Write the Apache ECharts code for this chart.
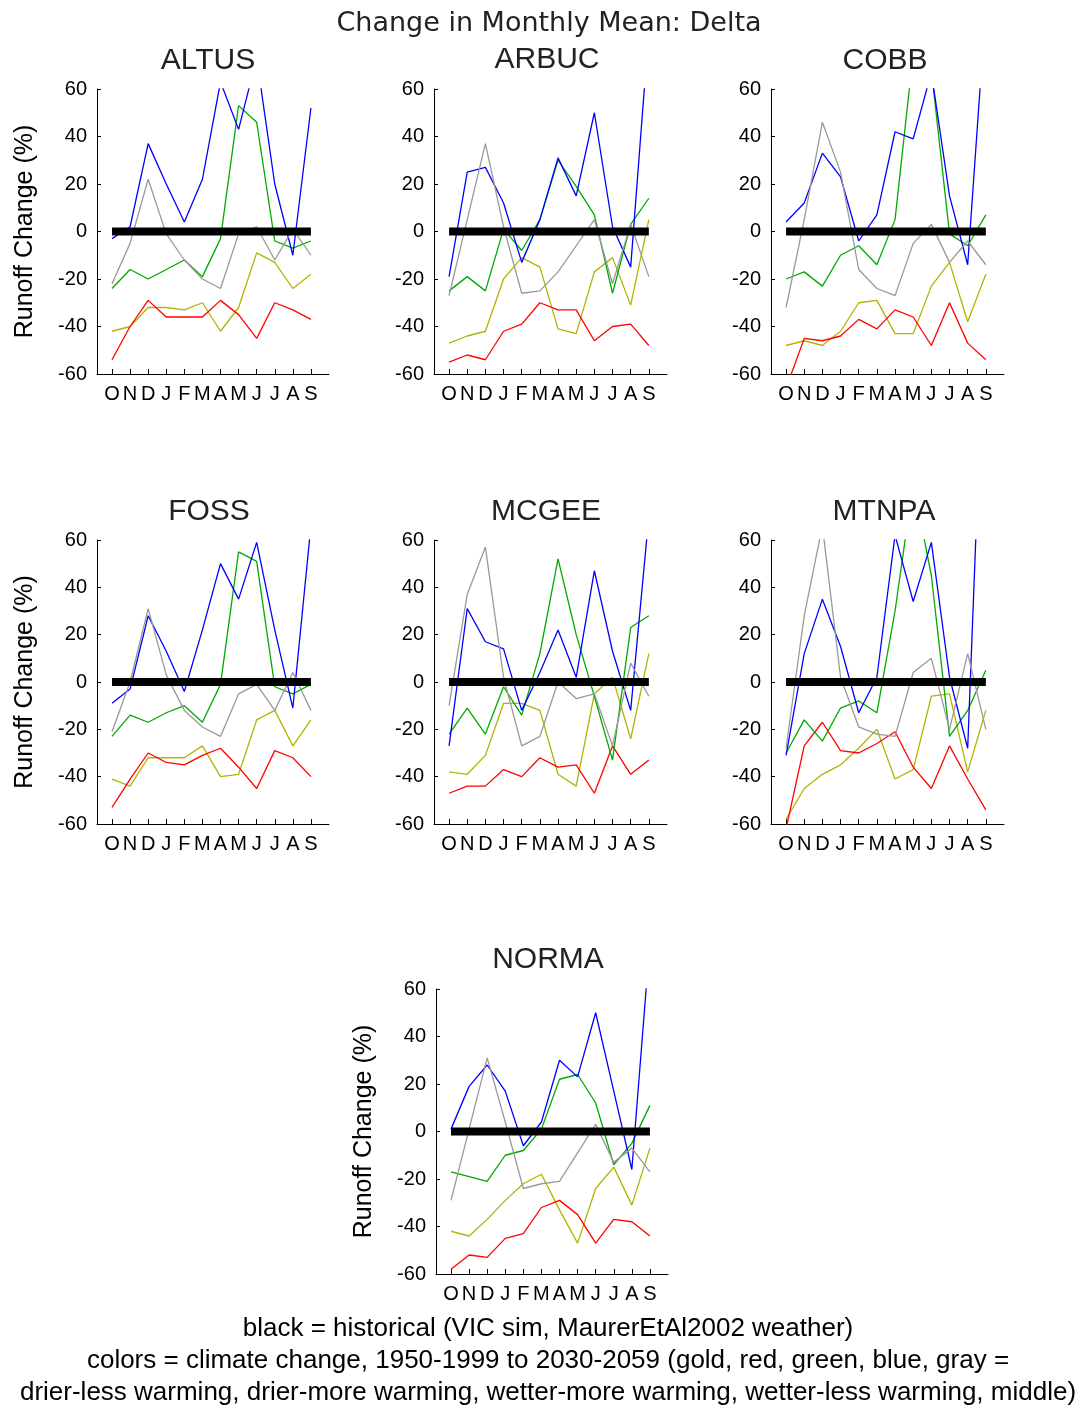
<!DOCTYPE html>
<html>
<head>
<meta charset="utf-8">
<script src="https://cdn.jsdelivr.net/npm/echarts@6/dist/echarts.min.js"></script>
<style>
html,body{margin:0;padding:0;background:#fff;}
#chart{width:1075px;height:1407px;}
</style>
</head>
<body>
<div id="chart"></div>
<script>
// ---- data ----
const months = ['O','N','D','J','F','M','A','M','J','J','A','S'];
const monthPos = [1,2,3,4,5,6,7,8,9,10,11,12];
const yTicks = [-60,-40,-20,0,20,40,60];
const historical = [0,0,0,0,0,0,0,0,0,0,0,0];

const ALTUS_gold  = [-42,-40,-32,-32,-33,-30,-42,-32,-9,-13,-24,-18];
const ALTUS_red   = [-54,-40,-29,-36,-36,-36,-29,-35,-45,-30,-33,-37];
const ALTUS_green = [-24,-16,-20,-16,-12,-19,-3,53,46,-4,-7,-4];
const ALTUS_blue  = [-3,2,37,20,4,22,63,43,73,20,-10,52];
const ALTUS_gray  = [-22,-5,22,-1,-12,-20,-24,-1,2,-12,1,-10];

const ARBUC_gold  = [-47,-44,-42,-20,-11,-15,-41,-43,-17,-11,-31,5];
const ARBUC_red   = [-55,-52,-54,-42,-39,-30,-33,-33,-46,-40,-39,-48];
const ARBUC_green = [-25,-19,-25,1,-8,5,30,19,7,-26,3,14];
const ARBUC_blue  = [-19,25,27,12,-13,5,31,15,50,2,-15,85];
const ARBUC_gray  = [-27,5,37,2,-26,-25,-17,-6,5,-22,3,-19];

const COBB_gold  = [-48,-46,-48,-42,-30,-29,-43,-43,-23,-13,-38,-18];
const COBB_red   = [-66,-45,-46,-44,-37,-41,-33,-36,-48,-30,-47,-54];
const COBB_green = [-20,-17,-23,-10,-6,-14,5,75,68,-1,-6,7];
const COBB_blue  = [4,12,33,23,-4,7,42,39,67,15,-14,95];
const COBB_gray  = [-32,5,46,25,-16,-24,-27,-5,3,-13,-4,-14];

const FOSS_gold  = [-41,-44,-32,-32,-32,-27,-40,-39,-16,-12,-27,-16];
const FOSS_red   = [-53,-41,-30,-34,-35,-31,-28,-36,-45,-29,-32,-40];
const FOSS_green = [-23,-14,-17,-13,-10,-17,-1,55,51,-2,-5,-1];
const FOSS_blue  = [-9,-3,28,13,-4,22,50,35,59,22,-11,66];
const FOSS_gray  = [-21,0,31,3,-12,-19,-23,-5,-1,-12,4,-12];

const MCGEE_gold  = [-38,-39,-31,-9,-9,-12,-39,-44,-5,2,-24,12];
const MCGEE_red   = [-47,-44,-44,-37,-40,-32,-36,-35,-47,-27,-39,-33];
const MCGEE_green = [-22,-11,-22,-2,-14,12,52,20,-6,-33,23,28];
const MCGEE_blue  = [-27,31,17,14,-12,4,22,2,47,13,-12,70];
const MCGEE_gray  = [-10,37,57,2,-27,-23,0,-7,-5,-27,8,-6];

const MTNPA_gold  = [-58,-45,-39,-35,-28,-20,-41,-37,-6,-5,-38,-12];
const MTNPA_red   = [-62,-27,-17,-29,-30,-26,-21,-36,-45,-27,-41,-54];
const MTNPA_green = [-30,-16,-25,-11,-8,-13,30,84,45,-23,-12,5];
const MTNPA_blue  = [-31,12,35,15,-13,2,62,34,59,2,-28,170];
const MTNPA_gray  = [-28,28,66,2,-19,-22,-23,4,10,-20,12,-20];

const NORMA_gold  = [-42,-44,-37,-29,-22,-18,-33,-47,-24,-15,-31,-7];
const NORMA_red   = [-58,-52,-53,-45,-43,-32,-29,-35,-47,-37,-38,-44];
const NORMA_green = [-17,-19,-21,-10,-8,1,22,24,12,-14,-5,11];
const NORMA_blue  = [1,19,28,17,-6,4,30,23,50,17,-16,80];
const NORMA_gray  = [-29,1,31,4,-24,-22,-21,-9,3,-13,-7,-17];

const stations = ['ALTUS','ARBUC','COBB','FOSS','MCGEE','MTNPA','NORMA'];
const stationData = {
  ALTUS: [ALTUS_gold, ALTUS_red, ALTUS_green, ALTUS_blue, ALTUS_gray],
  ARBUC: [ARBUC_gold, ARBUC_red, ARBUC_green, ARBUC_blue, ARBUC_gray],
  COBB:  [COBB_gold, COBB_red, COBB_green, COBB_blue, COBB_gray],
  FOSS:  [FOSS_gold, FOSS_red, FOSS_green, FOSS_blue, FOSS_gray],
  MCGEE: [MCGEE_gold, MCGEE_red, MCGEE_green, MCGEE_blue, MCGEE_gray],
  MTNPA: [MTNPA_gold, MTNPA_red, MTNPA_green, MTNPA_blue, MTNPA_gray],
  NORMA: [NORMA_gold, NORMA_red, NORMA_green, NORMA_blue, NORMA_gray]
};

// ---- layout / style ----
const colors = ['#b3b300', '#ff0000', '#00aa00', '#0000ff', '#999999'];
const FONT = 'Liberation Sans';
const panels = [
  {left: 97,  top: 89,  width: 232, height: 285, tx: 208, ty: 61,  yname: true},
  {left: 434, top: 89,  width: 233, height: 285, tx: 547, ty: 60,  yname: false},
  {left: 771, top: 89,  width: 233, height: 285, tx: 885, ty: 61,  yname: false},
  {left: 97,  top: 540, width: 232, height: 284, tx: 209, ty: 512, yname: true},
  {left: 434, top: 540, width: 233, height: 284, tx: 546, ty: 512, yname: false},
  {left: 771, top: 540, width: 233, height: 284, tx: 884, ty: 512, yname: false},
  {left: 436, top: 989, width: 232, height: 285, tx: 548, ty: 960, yname: true}
];

const grid = [], xAxis = [], yAxis = [], series = [], graphic = [];

stations.forEach((name, i) => {
  const p = panels[i];
  grid.push({left: p.left, top: p.top, width: p.width, height: p.height});
  xAxis.push({
    type: 'value', gridIndex: i, min: 0.17, max: 13, position: 'bottom',
    axisLine: {show: true, onZero: false, lineStyle: {color: '#000', width: 1}},
    axisTick: {show: true, inside: true, length: 5, customValues: monthPos, lineStyle: {color: '#000'}},
    axisLabel: {show: true, customValues: monthPos, formatter: v => months[Math.round(v) - 1],
      color: '#000', fontSize: 20, fontFamily: FONT, margin: 10},
    splitLine: {show: false}
  });
  yAxis.push({
    type: 'value', gridIndex: i, min: -60, max: 60, interval: 20, position: 'left',
    name: p.yname ? 'Runoff Change (%)' : '',
    nameLocation: 'middle', nameGap: 59,
    nameTextStyle: {color: '#000', fontSize: 25, fontFamily: FONT},
    axisLine: {show: true, onZero: false, lineStyle: {color: '#000', width: 1}},
    axisTick: {show: true, inside: true, length: 4, lineStyle: {color: '#000'}},
    axisLabel: {show: true, color: '#000', fontSize: 20, fontFamily: FONT, margin: 10,
      customValues: yTicks},
    splitLine: {show: false}
  });
  stationData[name].forEach((arr, k) => {
    series.push({
      type: 'line', xAxisIndex: i, yAxisIndex: i, symbol: 'none', clip: true,
      data: arr.map((v, j) => [monthPos[j], v]),
      lineStyle: {color: colors[k], width: 1.3}, z: 2
    });
  });
  series.push({
    type: 'line', xAxisIndex: i, yAxisIndex: i, symbol: 'none', clip: true,
    data: historical.map((v, j) => [monthPos[j], v]),
    lineStyle: {color: '#000', width: 8, cap: 'butt'}, z: 3
  });
  graphic.push({
    type: 'text', x: p.tx, y: p.ty,
    style: {text: name, fill: '#222', font: '30px "' + FONT + '"', textAlign: 'center', textVerticalAlign: 'middle'}
  });
});

graphic.push({
  type: 'text', x: 549, y: 24,
  style: {text: 'Change in Monthly Mean: Delta', fill: '#222', font: '27px "DejaVu Sans"', textAlign: 'center', textVerticalAlign: 'middle'}
});
const footer = [
  'black = historical (VIC sim, MaurerEtAl2002 weather)',
  'colors = climate change, 1950-1999 to 2030-2059 (gold, red, green, blue, gray =',
  'drier-less warming, drier-more warming, wetter-more warming, wetter-less warming, middle)'
];
footer.forEach((t, i) => {
  graphic.push({
    type: 'text', x: 548, y: 1329 + i * 32,
    style: {text: t, fill: '#000', font: '26px "' + FONT + '"', textAlign: 'center', textVerticalAlign: 'middle'}
  });
});

const chart = echarts.init(document.getElementById('chart'), null, {renderer: 'canvas'});
chart.setOption({
  backgroundColor: '#fff',
  animation: false,
  textStyle: {fontFamily: FONT},
  grid, xAxis, yAxis, series, graphic
});
</script>
</body>
</html>
